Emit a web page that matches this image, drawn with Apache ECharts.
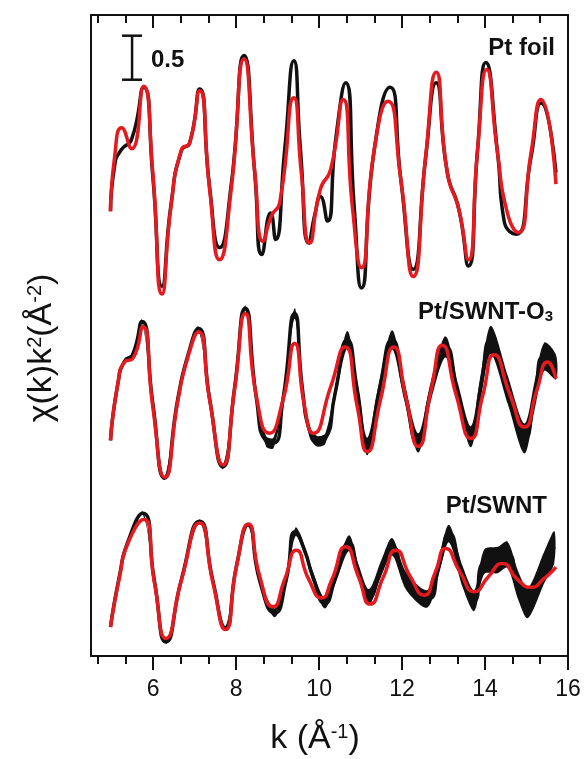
<!DOCTYPE html>
<html lang="en">
<head>
<meta charset="UTF-8">
<title>EXAFS k-space</title>
<script src="https://cdn.jsdelivr.net/npm/echarts@6/dist/echarts.min.js"></script>
<style>
    *{margin:0;padding:0}
    html,body{width:100%;height:100%;overflow:hidden;background:#fff}
    #chart{width:584px;height:759px}
</style>
</head>
<body>
<div id="chart"></div>
<script>
// values, y relative to each trace's own zero
// black = measured data, red = fit; noisy traces carry [k, y, noise half-width]
let foilData=[[4.97,-0.42],[5.07,0.1],[5.23,0.28],[5.48,0.40],[5.77,0.99],[5.99,-0.02],[6.21,-1.27],[6.43,-0.34],[6.68,0.27],[6.88,0.36],[7.12,0.97],[7.36,-0.15],[7.60,-0.83],[7.88,-0.12],[8.19,1.35],[8.45,0.0],[8.62,-0.91],[8.83,-0.44],[8.95,-0.74],[9.17,0.28],[9.39,1.29],[9.55,0.28],[9.75,-0.78],[9.90,-0.45],[10.03,-0.25],[10.20,-0.53],[10.40,0.40],[10.64,1.04],[10.85,-0.40],[11.02,-1.29],[11.32,0.25],[11.71,0.99],[11.97,-0.06],[12.27,-1.08],[12.57,0.2],[12.82,1.04],[13.09,0.02],[13.37,-0.4],[13.60,-1.04],[13.82,0.28],[14.02,1.27],[14.30,0.25],[14.46,-0.53],[14.74,-0.68],[15.11,0.2],[15.35,0.81],[15.71,0.02]];
let foilFit=[[4.97,-0.42],[5.07,0.2],[5.24,0.53],[5.48,0.29],[5.77,1.00],[5.99,0.02],[6.21,-1.36],[6.43,-0.36],[6.68,0.28],[6.88,0.36],[7.12,0.95],[7.36,-0.17],[7.60,-0.97],[7.88,-0.17],[8.19,1.31],[8.45,0.02],[8.65,-0.76],[8.85,-0.47],[9.05,-0.32],[9.39,0.87],[9.57,0.02],[9.77,-0.78],[10.03,-0.17],[10.28,0.06],[10.58,0.85],[10.80,-0.36],[11.02,-1.06],[11.32,0.25],[11.66,0.83],[11.97,-0.06],[12.27,-1.16],[12.57,0.21],[12.82,1.16],[13.09,0.02],[13.37,-0.40],[13.60,-0.97],[13.82,0.28],[14.04,1.19],[14.30,0.25],[14.54,-0.44],[14.80,-0.66],[15.11,0.25],[15.35,0.85],[15.71,-0.11]];

let o3Data=[[4.97,-0.57,0.01],[5.15,0.08,0.01],[5.31,0.33,0.02],[5.50,0.40,0.02],[5.73,0.78,0.02],[5.99,-0.15,0.02],[6.27,-1.0,0.02],[6.60,-0.08,0.02],[6.84,0.40,0.02],[7.09,0.70,0.02],[7.36,-0.10,0.02],[7.68,-0.87,0.03],[7.96,0.02,0.02],[8.22,0.93,0.03],[8.49,-0.10,0.03],[8.72,-0.58,0.06],[8.90,-0.60,0.06],[9.13,-0.10,0.04],[9.41,0.87,0.06],[9.60,0.0,0.05],[9.78,-0.48,0.06],[9.95,-0.58,0.06],[10.15,-0.55,0.06],[10.38,-0.05,0.08],[10.68,0.57,0.10],[10.92,0.0,0.10],[11.16,-0.64,0.10],[11.45,0.0,0.10],[11.76,0.57,0.11],[12.05,0.0,0.11],[12.39,-0.60,0.11],[12.70,0.0,0.11],[13.05,0.49,0.12],[13.35,-0.05,0.12],[13.66,-0.53,0.12],[13.90,0.05,0.14],[14.14,0.57,0.16],[14.55,0.0,0.16],[14.95,-0.55,0.17],[15.20,-0.05,0.16],[15.43,0.38,0.16],[15.71,0.26,0.14]];
let o3Fit=[[4.97,-0.57],[5.15,0.08],[5.31,0.32],[5.51,0.36],[5.75,0.72],[5.99,-0.19],[6.28,-0.99],[6.60,-0.11],[6.84,0.38],[7.09,0.66],[7.36,-0.11],[7.68,-0.85],[7.96,0.0],[8.22,0.87],[8.49,-0.08],[8.80,-0.49],[9.13,-0.11],[9.41,0.53],[9.65,-0.19],[9.86,-0.49],[10.28,0.04],[10.62,0.49],[10.92,-0.19],[11.16,-0.70],[11.48,-0.11],[11.80,0.49],[12.10,-0.10],[12.39,-0.64],[12.70,0.0],[12.97,0.51],[13.30,-0.05],[13.66,-0.55],[13.95,-0.05],[14.22,0.40],[14.60,-0.05],[14.95,-0.42],[15.25,0.0],[15.51,0.32],[15.71,0.13]];

let swntData=[[4.97,-0.42,0.01],[5.19,0.17,0.01],[5.39,0.55,0.02],[5.75,0.87,0.02],[6.03,0.10,0.02],[6.31,-0.59,0.02],[6.68,0.12,0.02],[7.12,0.78,0.02],[7.44,0.10,0.02],[7.74,-0.43,0.02],[8.01,0.28,0.02],[8.29,0.74,0.02],[8.57,0.10,0.03],[8.93,-0.26,0.05],[9.20,0.10,0.04],[9.43,0.66,0.05],[9.65,0.45,0.05],[9.85,0.15,0.06],[10.14,-0.15,0.06],[10.40,0.15,0.07],[10.72,0.53,0.09],[10.95,0.20,0.09],[11.20,-0.08,0.09],[11.50,0.25,0.09],[11.76,0.49,0.10],[12.10,0.10,0.10],[12.61,-0.10,0.10],[12.90,0.30,0.10],[13.13,0.64,0.10],[13.46,0.15,0.12],[13.74,-0.12,0.12],[13.98,0.32,0.14],[14.30,0.34,0.15],[14.54,0.40,0.15],[14.80,0.05,0.16],[15.03,-0.15,0.17],[15.43,0.26,0.18],[15.67,0.49,0.18]];
let swntFit=[[4.97,-0.42],[5.19,0.15],[5.39,0.53],[5.77,0.80],[6.03,0.08],[6.31,-0.55],[6.68,0.11],[7.12,0.76],[7.44,0.08],[7.74,-0.45],[8.01,0.27],[8.29,0.75],[8.57,0.15],[8.89,-0.19],[9.17,0.12],[9.45,0.45],[9.75,0.12],[10.06,-0.09],[10.30,0.11],[10.64,0.49],[10.95,0.15],[11.23,-0.16],[11.55,0.15],[11.85,0.45],[12.20,0.15],[12.53,-0.06],[12.80,0.20],[13.05,0.47],[13.40,0.20],[13.74,-0.02],[14.08,0.15],[14.42,0.30],[14.78,0.12],[15.11,0.03],[15.40,0.12],[15.71,0.26]];

// vertical stacking of the three traces
let offsets={foil:5.47,o3:3.02,swnt:0.75};
let majorTicks=[6,8,10,12,14,16];
let minorTicks=[4.67,5.33,6.67,7.33,8.67,9.33,10.67,11.33,12.67,13.33,14.67,15.33];
let scaleBar=[[5.49,6.545,0.5]];   // k, bottom, length

const FONT='Liberation Sans';
const INK='#111';
const RED='#e5191e';

function shift(arr,off){
    return arr.map(p=>[p[0],p[1]+off,p[2]||0]);
}

function lineSeries(arr,color,z){
    return {
        type:'line',
        data:arr.map(p=>[p[0],p[1]]),
        smooth:0.6,
        symbol:'none',
        lineStyle:{color:color,width:3.5},
        z:z,
        silent:true
    };
}

// noise of the measured trace drawn as a band around it
function bandSeries(arr){
    return {
        type:'custom',
        data:arr,
        encode:{x:0,y:1},
        z:3,
        silent:true,
        renderItem:function(params,api){
            if(params.dataIndex!==0) return null;
            let up=arr.map(p=>api.coord([p[0],p[1]+p[2]]));
            let dn=arr.map(p=>api.coord([p[0],p[1]-p[2]])).reverse();
            return {
                type:'polygon',
                shape:{points:up.concat(dn),smooth:0.3},
                style:{fill:INK}
            };
        }
    };
}

let foilD=shift(foilData,offsets.foil), foilF=shift(foilFit,offsets.foil);
let o3D=shift(o3Data,offsets.o3), o3F=shift(o3Fit,offsets.o3);
let swD=shift(swntData,offsets.swnt), swF=shift(swntFit,offsets.swnt);

let series=[
    lineSeries(foilD,INK,2),
    lineSeries(o3D,INK,2), bandSeries(o3D),
    lineSeries(swD,INK,2), bandSeries(swD),
    lineSeries(foilF,RED,5),
    lineSeries(o3F,RED,5),
    lineSeries(swF,RED,5),
    {
        type:'custom',
        data:scaleBar,
        z:6,
        silent:true,
        renderItem:function(params,api){
            let b=api.coord([api.value(0),api.value(1)]);
            let t=api.coord([api.value(0),api.value(1)+api.value(2)]);
            let st={stroke:INK,lineWidth:2.5};
            return {type:'group',children:[
                {type:'line',shape:{x1:b[0],y1:b[1],x2:t[0],y2:t[1]},style:st},
                {type:'line',shape:{x1:b[0]-10,y1:b[1],x2:b[0]+10,y2:b[1]},style:st},
                {type:'line',shape:{x1:t[0]-10,y1:t[1],x2:t[0]+10,y2:t[1]},style:st}
            ]};
        }
    }
];

let axisLine={show:true,lineStyle:{color:INK,width:2}};
let tickLine={color:INK,width:2};
function xAx(pos,ticks,len,inside,withLine,withLabel){
    return {
        type:'value',min:4.5,max:16,position:pos,
        axisLine:withLine?axisLine:{show:false},
        axisTick:{show:true,customValues:ticks,length:len,inside:inside,lineStyle:tickLine},
        axisLabel:withLabel?{customValues:ticks,fontSize:23,color:INK,margin:22,fontFamily:FONT}:{show:false},
        splitLine:{show:false}
    };
}

let options={
    animation:false,
    backgroundColor:'#fff',
    grid:{left:91,right:16,top:15,bottom:103,containLabel:false},
    xAxis:[
        xAx('bottom',majorTicks,14,false,true,true),
        xAx('bottom',minorTicks,8,false,false,false),
        xAx('top',majorTicks,13,true,true,false),
        xAx('top',minorTicks,8,true,false,false)
    ],
    yAxis:[
        {type:'value',min:0,max:7.28,position:'left',axisLine:axisLine,axisTick:{show:false},axisLabel:{show:false},splitLine:{show:false}},
        {type:'value',min:0,max:7.28,position:'right',axisLine:axisLine,axisTick:{show:false},axisLabel:{show:false},splitLine:{show:false}}
    ],
    graphic:[
        {type:'text',x:42,y:348,rotation:Math.PI/2,style:{
            text:'{a|χ(k)k}{s|2}{a|(Å}{s|-2}{a|)}',align:'center',verticalAlign:'middle',
            rich:{a:{fontSize:34,fontFamily:FONT,fill:INK},s:{fontSize:20,fontFamily:FONT,fill:INK,verticalAlign:'top'}}
        }},
        {type:'text',x:315,y:739,style:{
            text:'{a|k (Å}{s|-1}{a|)}',align:'center',verticalAlign:'middle',
            rich:{a:{fontSize:34,fontFamily:FONT,fill:INK},s:{fontSize:20,fontFamily:FONT,fill:INK,verticalAlign:'top'}}
        }},
        {type:'text',x:151,y:60,style:{text:'0.5',align:'left',verticalAlign:'middle',font:'bold 24px "Liberation Sans"',fill:INK}},
        {type:'text',x:555,y:48,style:{text:'Pt foil',align:'right',verticalAlign:'middle',font:'bold 24px "Liberation Sans"',fill:INK}},
        {type:'text',x:553,y:312,style:{
            text:'{b|Pt/SWNT-O}{sub|3}',align:'right',verticalAlign:'middle',
            rich:{b:{fontSize:24,fontWeight:'bold',fontFamily:FONT,fill:INK},sub:{fontSize:15,fontWeight:'bold',fontFamily:FONT,fill:INK,verticalAlign:'bottom'}}
        }},
        {type:'text',x:547,y:506,style:{text:'Pt/SWNT',align:'right',verticalAlign:'middle',font:'bold 24px "Liberation Sans"',fill:INK}}
    ],
    series:series
};

let mycharts=echarts.init(document.getElementById('chart'));
mycharts.setOption(options);
</script>
</body>
</html>
